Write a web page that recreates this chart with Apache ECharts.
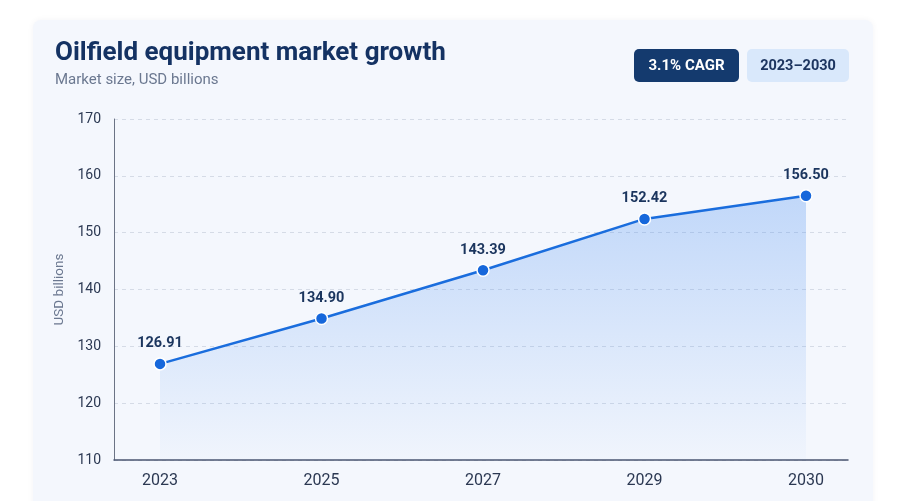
<!DOCTYPE html>
<html>
<head>
<meta charset="utf-8">
<script src="https://cdn.jsdelivr.net/npm/echarts@6/dist/echarts.min.js"></script>
<style>
html,body{margin:0;padding:0;background:#ffffff;}
#chart{width:903px;height:501px;}
</style>
</head>
<body>
<div id="chart"></div>
<script>
var categories = ['2023', '2025', '2027', '2029', '2030'];
var values = [126.91, 134.90, 143.39, 152.42, 156.50];
var yTicks = [110, 120, 130, 140, 150, 160, 170];
var titleText = 'Oilfield equipment market growth';
var subtitleText = 'Market size, USD billions';
var badgeCagr = '3.1% CAGR';
var badgeRange = '2023\u20132030';
var yName = 'USD billions';

var points = values.map(function (v, i) { return [i, v]; });
var FONT = 'Roboto, "Noto Sans", sans-serif';

var chart = echarts.init(document.getElementById('chart'), null, {renderer: 'canvas'});
chart.setOption({
  backgroundColor: '#ffffff',
  animation: false,
  textStyle: {fontFamily: FONT},
  graphic: [
    {type: 'rect', z: -10, shape: {x: 33, y: 20, width: 840, height: 520, r: 8},
     style: {fill: '#f4f7fd', shadowBlur: 6, shadowColor: 'rgba(20,40,80,0.05)'}},
    {type: 'text', z: 10, x: 55, y: 53,
     style: {text: titleText, font: 'bold 26px ' + FONT, fill: '#143263', verticalAlign: 'middle'}},
    {type: 'text', z: 10, x: 55, y: 80,
     style: {text: subtitleText, font: '15px ' + FONT, fill: '#6b7890', verticalAlign: 'middle'}},
    {type: 'rect', z: 5, shape: {x: 634, y: 49, width: 105, height: 33, r: 5},
     style: {fill: '#143a6e'}},
    {type: 'text', z: 10, x: 686.5, y: 66,
     style: {text: badgeCagr, font: 'bold 15px ' + FONT, fill: '#ffffff', align: 'center', verticalAlign: 'middle'}},
    {type: 'rect', z: 5, shape: {x: 747, y: 49, width: 102, height: 33, r: 5},
     style: {fill: '#d9e8fb'}},
    {type: 'text', z: 10, x: 798, y: 66,
     style: {text: badgeRange, font: 'bold 14.5px ' + FONT, fill: '#1d3560', align: 'center', verticalAlign: 'middle'}}
  ],
  grid: {left: 114, right: 55, top: 119, bottom: 41, containLabel: false},
  xAxis: {
    type: 'value',
    min: -0.285,
    max: 4.26,
    axisLine: {show: true, onZero: false, lineStyle: {color: '#4a5570', width: 1.5}},
    axisTick: {show: false},
    splitLine: {show: false},
    axisLabel: {
      customValues: [0, 1, 2, 3, 4],
      formatter: function (v) { return categories[Math.round(v)] || ''; },
      margin: 13,
      fontSize: 16,
      color: '#2b3852',
      fontFamily: FONT
    }
  },
  yAxis: {
    type: 'value',
    min: yTicks[0],
    max: yTicks[yTicks.length - 1],
    interval: 10,
    name: yName,
    nameLocation: 'middle',
    nameRotate: 90,
    nameGap: 46,
    nameTextStyle: {fontSize: 13.5, color: '#6b7890', fontFamily: FONT},
    axisLine: {show: true, onZero: false, lineStyle: {color: '#6b7385', width: 1}},
    axisTick: {show: false},
    axisLabel: {margin: 13, fontSize: 14, color: '#2b3852', fontFamily: FONT},
    splitLine: {show: true, lineStyle: {color: '#d5dbe6', type: [4, 4], width: 1}}
  },
  series: [{
    type: 'line',
    data: points,
    symbol: 'circle',
    symbolSize: 12,
    lineStyle: {color: '#1a6ddd', width: 2.5},
    itemStyle: {color: '#1667db', borderColor: '#ffffff', borderWidth: 1.5},
    areaStyle: {
      origin: 'start',
      color: new echarts.graphic.LinearGradient(0, 0, 0, 1, [
        {offset: 0, color: 'rgba(70,140,240,0.42)'},
        {offset: 1, color: 'rgba(70,140,240,0.03)'}
      ])
    },
    label: {
      show: true,
      position: 'top',
      distance: 6,
      fontSize: 14.5,
      fontWeight: 'bold',
      color: '#1b355e',
      fontFamily: FONT,
      formatter: function (p) { return p.value[1].toFixed(2); }
    },
    z: 3
  }]
});
</script>
</body>
</html>
